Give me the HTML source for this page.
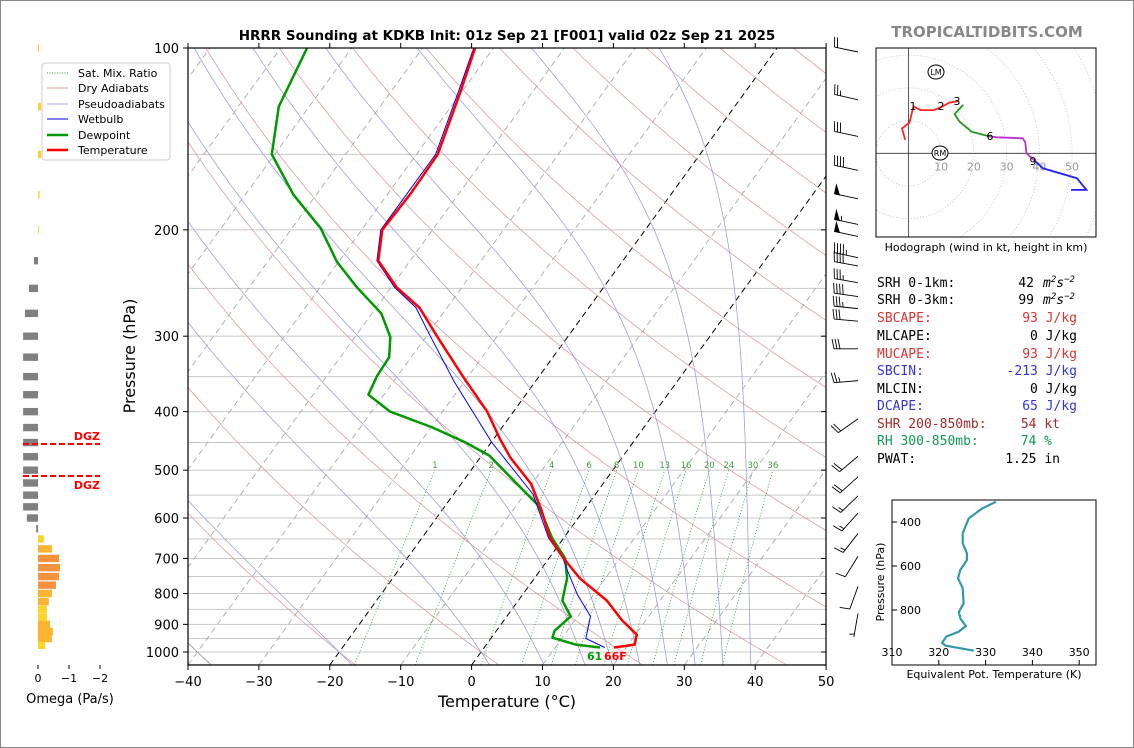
<!DOCTYPE html>
<html><head><meta charset="utf-8">
<style>
html,body{margin:0;padding:0;background:#fff;}
svg{display:block;font-family:"DejaVu Sans","Liberation Sans",sans-serif;}
.mono{font-family:"DejaVu Sans Mono","Liberation Mono",monospace;font-size:13px;}
</style></head>
<body>
<svg id="chart" width="1134" height="748" viewBox="0 0 1134 748" xmlns="http://www.w3.org/2000/svg">
<rect x="0.5" y="0.5" width="1133" height="747" fill="#fff" stroke="#888"/>
<defs><clipPath id="plotclip"><rect x="188" y="48" width="638" height="617"/></clipPath>
<clipPath id="hodoclip"><rect x="876" y="48" width="220" height="189"/></clipPath>
<clipPath id="thclip"><rect x="892" y="500" width="204" height="165"/></clipPath></defs>
<text x="507" y="40" text-anchor="middle" font-size="13.5" font-weight="bold">HRRR Sounding at KDKB Init: 01z Sep 21 [F001] valid 02z Sep 21 2025</text>
<text x="987" y="37" text-anchor="middle" font-size="15" font-weight="bold" fill="#888">TROPICALTIDBITS.COM</text>
<g id="bg" clip-path="url(#plotclip)"></g>
<g id="traces" clip-path="url(#plotclip)"></g>
<rect x="188" y="48" width="638" height="617" fill="none" stroke="#000" stroke-width="1.2"/>
<g id="axes"></g>
<text x="507" y="707" text-anchor="middle" font-size="16">Temperature (°C)</text>
<text transform="translate(135,356) rotate(-90)" text-anchor="middle" font-size="16">Pressure (hPa)</text>
<text x="587" y="660" font-size="11" font-weight="bold" fill="#009900">61</text>
<text x="604" y="660" font-size="11" font-weight="bold" fill="#ff0000">66F</text>
<g id="barbs"></g>
<g id="omega"></g>
<g id="legend">
<rect x="42" y="63" width="128" height="97" rx="3" fill="#fff" stroke="#ccc"/>
<line x1="47" y1="73" x2="68" y2="73" stroke="#339933" stroke-dasharray="1,1.5"/>
<text x="78" y="77" font-size="11">Sat. Mix. Ratio</text>
<line x1="47" y1="88" x2="68" y2="88" stroke="#d9a0a0"/>
<text x="78" y="92" font-size="11">Dry Adiabats</text>
<line x1="47" y1="104" x2="68" y2="104" stroke="#a0a0d9"/>
<text x="78" y="108" font-size="11">Pseudoadiabats</text>
<line x1="47" y1="119" x2="68" y2="119" stroke="#0000ff"/>
<text x="78" y="123" font-size="11">Wetbulb</text>
<line x1="47" y1="135" x2="68" y2="135" stroke="#009900" stroke-width="2.5"/>
<text x="78" y="139" font-size="11">Dewpoint</text>
<line x1="47" y1="150" x2="68" y2="150" stroke="#ff0000" stroke-width="2.5"/>
<text x="78" y="154" font-size="11">Temperature</text>
</g>
<g id="hodo"></g>
<text x="986" y="251" text-anchor="middle" font-size="11">Hodograph (wind in kt, height in km)</text>
<g class="mono">
<text x="877" y="287">SRH 0-1km:</text><text x="1034" y="287" text-anchor="end">42</text><text x="1043" y="287" font-style="italic">m<tspan dy="-5" font-size="9">2</tspan><tspan dy="5">s</tspan><tspan dy="-5" font-size="9">−2</tspan></text>
<text x="877" y="304">SRH 0-3km:</text><text x="1034" y="304" text-anchor="end">99</text><text x="1043" y="304" font-style="italic">m<tspan dy="-5" font-size="9">2</tspan><tspan dy="5">s</tspan><tspan dy="-5" font-size="9">−2</tspan></text>
<text x="877" y="322" fill="#dd3333">SBCAPE:</text><text x="1077" y="322" text-anchor="end" fill="#dd3333">93 J/kg</text>
<text x="877" y="340">MLCAPE:</text><text x="1077" y="340" text-anchor="end">0 J/kg</text>
<text x="877" y="358" fill="#dd3333">MUCAPE:</text><text x="1077" y="358" text-anchor="end" fill="#dd3333">93 J/kg</text>
<text x="877" y="375" fill="#3333dd">SBCIN:</text><text x="1077" y="375" text-anchor="end" fill="#3333dd">-213 J/kg</text>
<text x="877" y="393">MLCIN:</text><text x="1077" y="393" text-anchor="end">0 J/kg</text>
<text x="877" y="410" fill="#3333dd">DCAPE:</text><text x="1077" y="410" text-anchor="end" fill="#3333dd">65 J/kg</text>
<text x="877" y="428" fill="#a52a2a">SHR 200-850mb:</text><text x="1060" y="428" text-anchor="end" fill="#a52a2a">54 kt</text>
<text x="877" y="445" fill="#119955">RH 300-850mb:</text><text x="1052" y="445" text-anchor="end" fill="#119955">74 %</text>
<text x="877" y="463">PWAT:</text><text x="1060" y="463" text-anchor="end">1.25 in</text>
</g>
<g id="theta"></g>
</svg>
<script>
// ---- data ----
const tempP = [100,118,130,150,174,200,225,249,269,300,350,400,445,477,527,582,648,700,755,822,887,936,972,983];
const tempC = [-62.6,-60.2,-58.9,-57.0,-56.8,-57.1,-54.5,-49.2,-43.9,-38.5,-30.7,-23.7,-19.0,-15.7,-10.1,-6.0,-1.9,2.1,6.4,12.5,16.7,20.2,20.9,18.3];
const dewP = [100,125,150,175,199,226,249,275,301,325,349,375,400,425,450,473,527,573,648,700,755,822,873,922,947,972,983];
const dewC = [-86.3,-84.3,-80.4,-73.2,-65.9,-60.2,-54.8,-48.7,-45.0,-43.1,-42.9,-42.2,-37.4,-29.8,-23.6,-18.9,-12.1,-6.8,-1.6,2.3,4.6,6.2,9.0,8.2,8.6,12.6,16.3];
const wbP = [100,118,150,200,225,249,269,299,357,449,548,648,700,732,803,873,950,983];
const wbC = [-62.8,-60.5,-57.3,-57.3,-54.7,-49.5,-44.4,-39.6,-31.4,-20.0,-8.8,-2.1,2.0,3.8,7.7,11.8,13.4,17.0];
const mixRatios = [1,2,4,6,8,10,13,16,20,24,30,36];
const pTickLabels = [100,200,300,400,500,600,700,800,900,1000];
const tTickLabels = [-40,-30,-20,-10,0,10,20,30,40,50];
const barbP = [100,120,138,157,175,193,202,219,226,241,254,266,279,310,350,405,467,505,543,580,627,684,767,850];
const barbSpd = [20,25,30,40,50,55,50,45,40,35,40,35,30,30,25,20,20,20,15,15,15,10,10,5];
const barbDir = [282,283,282,282,282,282,282,282,280,280,278,276,275,270,265,235,230,228,226,222,218,212,200,190];
const omegaP = [100,125,150,175,200,225,250,275,300,325,350,375,400,425,450,475,500,525,550,575,600,625,650,675,700,725,750,775,800,825,850,875,900,925,950,975];
const omegaV = [-0.03,-0.1,-0.1,-0.05,-0.02,0.13,0.29,0.42,0.48,0.48,0.48,0.48,0.48,0.48,0.48,0.48,0.48,0.48,0.48,0.48,0.36,0.06,-0.19,-0.45,-0.68,-0.71,-0.68,-0.58,-0.45,-0.35,-0.29,-0.29,-0.39,-0.48,-0.45,-0.23];
const hodoU1 = [-1,-2,0.3,1.1,1.6,3.7,7.8,10.4,12.5,15.3];
const hodoV1 = [4.1,7.6,9.4,12.7,14.3,13.2,13.2,14.3,15.5,16];
const hodoU2 = [16.7,14.1,15.6,19.3,25];
const hodoV2 = [14.8,12,9.7,6.6,5.1];
const hodoU3 = [25,27.1,34.9,35.7,36.1,39];
const hodoV3 = [5.1,4.9,4.6,3.5,0,-2.6];
const hodoU4 = [39,41.1,51.5,54.4,49.7];
const hodoV4 = [-2.6,-4.6,-7.6,-11.2,-11.2];
const thetaE = [332.2,329.3,326.4,325.1,325.1,326,326,324.6,324.1,325.1,325.3,324.3,324.6,325.8,324.2,321.6,320.7,321.4,327.5];
const thetaP = [308,338,383,451,497,542,573,618,656,701,770,808,838,873,899,921,949,962,985];

// ---- scales ----
const NS='http://www.w3.org/2000/svg';
function yP(p){return 48+604*Math.log10(p/100);}
function xT(T,y){return 471.6+7.09*T+0.725*(665-y);}
function mk(tag,attrs,parent){const e=document.createElementNS(NS,tag);for(const k in attrs)e.setAttribute(k,attrs[k]);parent.appendChild(e);return e;}
function polyPts(ps,ts){return ps.map((p,i)=>{const y=yP(p);return xT(ts[i],y).toFixed(1)+','+y.toFixed(1);}).join(' ');}
const bg=document.getElementById('bg'),tr=document.getElementById('traces'),ax=document.getElementById('axes');

// isobars
for(let p=100;p<=1050;p+=50){const y=yP(p);const l=mk('line',{x1:188,x2:826,y1:y,y2:y,stroke:'#c8c8c8','stroke-width':1},bg);

}
// isotherms
for(let T=-160;T<=50;T+=10){const y1=665,y2=48;const l=mk('line',{x1:xT(T,y1),y1:y1,x2:xT(T,y2),y2:y2,stroke:(T==0||T==-20)?'#000':'#aaa','stroke-dasharray':'6,4','stroke-width':(T==0||T==-20)?1:0.9},bg);

}
// dry adiabats
const plist=[];for(let p=1050;p>=100;p-=10)plist.push(p);
for(let t0=-40;t0<=220;t0+=20){const th=t0+273.15;const pts=plist.map(p=>{const y=yP(p);return xT(th*Math.pow(p/1000,0.2857)-273.15,y).toFixed(1)+','+y.toFixed(1);}).join(' ');
const l=mk('polyline',{points:pts,fill:'none',stroke:'#d9a0a0','stroke-width':0.8},bg);

}
// moist adiabats
function es(T){return 6.112*Math.exp(17.67*T/(T+243.5));}
function grad(T,p){const e=es(T-273.15);const r=0.622*e/(p-e);return (287*T+2.5e6*r)/(1004+2.5e6*2.5e6*r*0.622/(287*T*T))/p;}
function moist(t0){const out=[];let T=t0+273.15;let p=1000;
 let Td=T,pd=1000;const down=[];
 while(pd<1050){Td+=grad(Td,pd)*5;pd+=5;down.push([pd,Td]);}
 down.reverse().forEach(a=>out.push(a));out.push([1000,T]);
 while(p>100){T+=grad(T,p)*(-5);p-=5;out.push([p,T]);}
 return out;}
const mts=[-60,-40,-20,0,8,14,18,22,26,30,34,38];
mts.forEach(t0=>{const pts=moist(t0).map(a=>{const y=yP(a[0]);return xT(a[1]-273.15,y).toFixed(1)+','+y.toFixed(1);}).join(' ');
const l=mk('polyline',{points:pts,fill:'none',stroke:'#a0a0d9','stroke-width':0.8},bg);

});
// mixing ratio lines
mixRatios.forEach(w=>{const pts=[];for(let p=1050;p>=500;p-=25){const e=w*p/(622+w);const L=Math.log(e/6.112);const Td=243.5*L/(17.67-L);const y=yP(p);pts.push(xT(Td,y).toFixed(1)+','+y.toFixed(1));}
const l=mk('polyline',{points:pts.join(' '),fill:'none',stroke:'#339933','stroke-width':0.8,'stroke-dasharray':'1,2'},bg);


const e=w*500/(622+w);const L=Math.log(e/6.112);const Td=243.5*L/(17.67-L);const y=yP(500);
const t=mk('text',{x:xT(Td,y),y:y-2,'font-size':8.5,fill:'#449944','text-anchor':'middle'},bg);t.textContent=w;

});
// traces
let l=mk('polyline',{points:polyPts(dewP,dewC),fill:'none',stroke:'#009900','stroke-width':2.5,'stroke-linejoin':'round'},tr);


l=mk('polyline',{points:polyPts(wbP,wbC),fill:'none',stroke:'#0000ff','stroke-width':1},tr);


l=mk('polyline',{points:polyPts(tempP,tempC),fill:'none',stroke:'#ff0000','stroke-width':2.5,'stroke-linejoin':'round'},tr);


// axes ticks
pTickLabels.forEach(p=>{const y=yP(p);mk('line',{x1:183,x2:188,y1:y,y2:y,stroke:'#000'},ax);mk('line',{x1:821,x2:826,y1:y,y2:y,stroke:'#000'},ax);
const t=mk('text',{x:179,y:y+5,'text-anchor':'end','font-size':13},ax);t.textContent=p;

});
tTickLabels.forEach(T=>{const x=188+(T+40)*7.09;mk('line',{x1:x,x2:x,y1:665,y2:670,stroke:'#000'},ax);mk('line',{x1:x,x2:x,y1:43,y2:48,stroke:'#000'},ax);
const t=mk('text',{x:x,y:686,'text-anchor':'middle','font-size':13},ax);t.textContent=(T<0?'\u2212':'')+Math.abs(T);

});
// barbs
const bb=document.getElementById('barbs');
barbP.forEach((p,i)=>{const sx=858,sy=yP(p)+4;const d=barbDir[i]*Math.PI/180;const ux=Math.sin(d),uy=-Math.cos(d);const L=24;
const ex=sx+ux*L,ey=sy+uy*L;const g=mk('g',{stroke:'#000','stroke-width':0.9,fill:'#000'},bb);


mk('line',{x1:sx,y1:sy,x2:ex,y2:ey},g);
const px=-uy,py=ux;let s=Math.round(barbSpd[i]/5)*5;let pos=0;
while(s>=50){const ax1=ex-ux*pos,ay1=ey-uy*pos,bx=ex-ux*(pos+5),by=ey-uy*(pos+5);mk('polygon',{points:`${ax1},${ay1} ${ax1+px*9},${ay1+py*9} ${bx},${by}`},g);pos+=7;s-=50;}
while(s>=10){const ax1=ex-ux*pos,ay1=ey-uy*pos;mk('line',{x1:ax1,y1:ay1,x2:ax1+px*10+ux*2,y2:ay1+py*10+uy*2},g);pos+=3;s-=10;}
if(s>=5){if(pos==0)pos=3;const ax1=ex-ux*pos,ay1=ey-uy*pos;mk('line',{x1:ax1,y1:ay1,x2:ax1+px*5+ux*1,y2:ay1+py*5+uy*1},g);}
});
// omega panel
const om=document.getElementById('omega');
function xO(v){return 38-31*v;}
omegaP.forEach((p,i)=>{const v=omegaV[i];const y=yP(p);const x0=Math.min(xO(0),xO(v)),w=Math.abs(xO(v)-xO(0));
const a=Math.abs(v);const c=v>0?'#808080':(a<0.3?'#fdd32a':(a<0.5?'#fbb431':'#f5923e'));
const r=mk('rect',{x:x0,y:y-3.7,width:Math.max(w,1),height:7.4,fill:c},om);

});
[0,-1,-2].forEach(v=>{const x=xO(v);mk('line',{x1:x,x2:x,y1:665,y2:669,stroke:'#000'},om);const t=mk('text',{x:x,y:682,'text-anchor':'middle','font-size':11},om);t.textContent=v==0?'0':'\u2212'+Math.abs(v);

});
let t=mk('text',{x:70,y:703,'text-anchor':'middle','font-size':13},om);t.textContent='Omega (Pa/s)';


[444,476].forEach(y=>{const d=mk('line',{x1:23,x2:100,y1:y,y2:y,stroke:'#ff0000','stroke-width':2,'stroke-dasharray':'6,3'},om);

});
[[440,'dgz-top-label'],[489,'dgz-bottom-label']].forEach(a=>{const tt=mk('text',{x:100,y:a[0],'text-anchor':'end','font-size':11,'font-weight':'bold',fill:'#ff0000'},om);tt.textContent='DGZ';

});
// hodograph
const ho=document.getElementById('hodo');
const hc=mk('g',{'clip-path':'url(#hodoclip)'},ho);
const ox=908.5,oy=153.3,k=3.27;
for(let r=10;r<=80;r+=10)mk('circle',{cx:ox,cy:oy,r:r*k,fill:'none',stroke:'#bbb','stroke-dasharray':'1,2','stroke-width':0.8},hc);
mk('line',{x1:876,x2:1096,y1:oy,y2:oy,stroke:'#333','stroke-width':0.8},hc);
mk('line',{x1:ox,x2:ox,y1:48,y2:237,stroke:'#333','stroke-width':0.8},hc);
[10,20,30,40,50].forEach(r=>{const tt=mk('text',{x:ox+r*k,y:oy+17,'text-anchor':'middle','font-size':11,fill:'#999'},hc);tt.textContent=r;});
[[hodoU1,hodoV1,'#ff2222'],[hodoU2,hodoV2,'#229922'],[hodoU3,hodoV3,'#bb33cc'],[hodoU4,hodoV4,'#2222ff']].forEach((s,j)=>{
const pts=s[0].map((u,i)=>(ox+u*k).toFixed(1)+','+(oy-s[1][i]*k).toFixed(1)).join(' ');
const pl=mk('polyline',{points:pts,fill:'none',stroke:s[2],'stroke-width':1.8},hc);

});
[['1',913,110],['2',941,110],['3',957,105],['6',990,140],['9',1033,165]].forEach(a=>{const tt=mk('text',{x:a[1],y:a[2],'text-anchor':'middle','font-size':11},hc);tt.textContent=a[0];});
[['LM',936,72],['RM',940,153]].forEach(a=>{mk('ellipse',{cx:a[1],cy:a[2],rx:8,ry:7,fill:'#fff',stroke:'#000'},hc);const tt=mk('text',{x:a[1],y:a[2]+3,'text-anchor':'middle','font-size':8},hc);tt.textContent=a[0];});
mk('rect',{x:876,y:48,width:220,height:189,fill:'none',stroke:'#000'},ho);
// theta-e panel
const th=document.getElementById('theta');
function xTh(v){return 892+(v-310)*4.68;}
function yTh(p){return 522+(p-400)*0.22;}
const tc=mk('g',{'clip-path':'url(#thclip)'},th);
const tl=mk('polyline',{points:thetaE.map((v,i)=>xTh(v).toFixed(1)+','+yTh(thetaP[i]).toFixed(1)).join(' '),fill:'none',stroke:'#3399aa','stroke-width':2.2},tc);


mk('rect',{x:892,y:500,width:204,height:165,fill:'none',stroke:'#000'},th);
[400,600,800].forEach(p=>{const y=yTh(p);mk('line',{x1:892,x2:897,y1:y,y2:y,stroke:'#000'},th);const tt=mk('text',{x:900,y:y+4,'font-size':11},th);tt.textContent=p;});
[310,320,330,340,350].forEach(v=>{const x=xTh(v);mk('line',{x1:x,x2:x,y1:665,y2:660,stroke:'#000'},th);const tt=mk('text',{x:x,y:656,'text-anchor':'middle','font-size':11},th);tt.textContent=v;});
t=mk('text',{x:994,y:678,'text-anchor':'middle','font-size':11},th);t.textContent='Equivalent Pot. Temperature (K)';
t=mk('text',{transform:'translate(884,582) rotate(-90)','text-anchor':'middle','font-size':11},th);t.textContent='Pressure (hPa)';
</script>
</body></html>
